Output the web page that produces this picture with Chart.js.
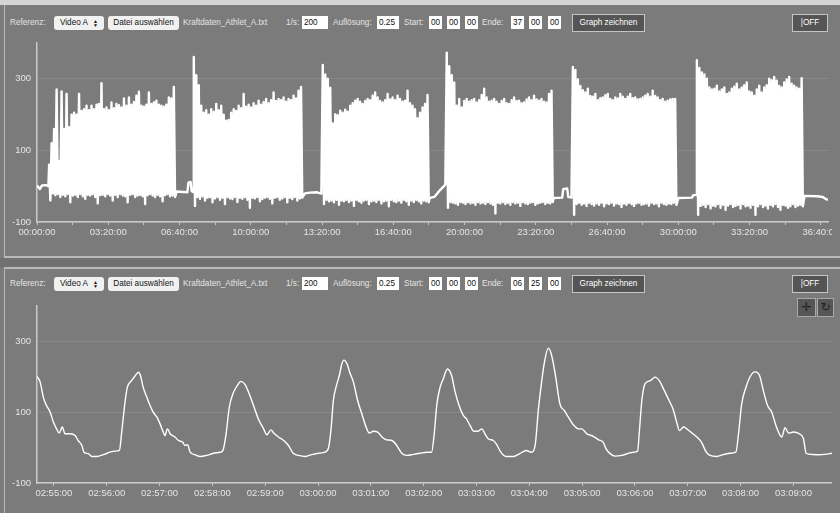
<!DOCTYPE html>
<html><head><meta charset="utf-8">
<script src="https://cdn.jsdelivr.net/npm/chart.js@4.4.1/dist/chart.umd.min.js"></script>
<style>
html,body{margin:0;padding:0;width:840px;height:513px;overflow:hidden;background:#7b7b7b;font-family:"Liberation Sans",Arial,sans-serif;position:relative;}
#topstrip{position:absolute;left:0;top:0;width:840px;height:5px;background:#d4d4d4;}
.panel{position:absolute;left:4px;width:836px;background:#7b7b7b;border-left:1.5px solid #b9b9b9;box-sizing:border-box;}
#p1{top:5px;height:253px;border-bottom:2px solid #b9b9b9;}
#band{position:absolute;left:0;top:258px;width:840px;height:9px;background:#717171;}
#p2{top:267px;height:246px;border-top:2px solid #b9b9b9;}
.t{position:absolute;font-size:8.2px;color:#e4e4e4;line-height:14px;height:14px;white-space:nowrap;}
.box{position:absolute;height:13px;background:#fff;color:#111;font-size:8.2px;line-height:13px;padding-left:2px;box-sizing:border-box;white-space:nowrap;overflow:hidden;}
.lbtn{position:absolute;height:14px;background:#f1f1f1;color:#111;font-size:8.2px;line-height:14px;border-radius:3px;text-align:center;white-space:nowrap;}
.dbtn{position:absolute;height:18px;background:#555;border:1.5px solid #c4c4c4;box-sizing:border-box;color:#fff;font-size:8.2px;line-height:15px;text-align:center;white-space:nowrap;}
.ibtn{position:absolute;height:19px;background:#565656;border:1.5px solid #a8a8a8;box-sizing:border-box;color:#1e1e1e;font-family:"DejaVu Sans",sans-serif;font-size:12px;line-height:16px;text-align:center;}
.chartbox{position:absolute;left:5px;width:827px;}
.arr{display:inline-block;font-size:5px;line-height:4px;vertical-align:middle;margin-left:5px;}
</style></head>
<body>
<div id="topstrip"></div>
<div class="panel" id="p1"></div>
<div id="band"></div>
<div class="panel" id="p2"></div>
<div id="tb1"></div>
<div id="tb2"></div>
<div class="chartbox" style="top:36px;height:214px;"><canvas id="c1"></canvas></div>
<div class="chartbox" style="top:299px;height:212px;"><canvas id="c2"></canvas></div>
<div class="ibtn" style="left:797px;top:298px;width:19px;">✛</div>
<div class="ibtn" style="left:817px;top:298px;width:17px;">↻</div>
<script>
// ---------- data ----------
const yTickValues = [-100, 100, 300];
const topTickValues = [0,100,200,300,400,500,600,700,800,900,1000,1100,1200,1300,1400,1500,1600,1700,1800,1900,2000,2100,2200];
const bottomTickValues = [175,176,177,178,179,180,181,182,183,184,185,186,187,188,189];

// top overview: resting baseline between bouts (time s, force)
const topRestTimes  = [0, 8, 14, 25, 32, 392, 410, 422, 425, 431, 434, 438, 752, 766, 786, 798, 1102, 1115, 1125, 1132, 1140, 1146, 1450, 1474, 1477, 1488, 1491, 1500, 1800, 1838, 1842, 1850, 2154, 2190, 2205, 2214, 2220];
const topRestValues = [2, -8, 2, 3, 0, -15, -16, -17, 10, 12, -14, -16, -20, -18, -17, -21, -33, -30, -18, -10, -2, 5, -33, -32, -8, -6, -30, -32, -33, -32, -25, -25, -27, -28, -30, -36, -38];

// stroke peaks / troughs of the six bouts
const topBlockStarts = [34, 440, 802, 1150, 1504, 1852];
const topStrokeStep = 7;
const topPeaks1 = [60,120,160,270,70,265,160,258,165,200, 205,200,258,210,215,225,212,225,215,228, 230,288,215,220,212,234,218,230,226,220, 245,225,248,228,235,253,264,225,222,228, 262,230,234,239,228,225,222,228,248,245, 277];
const topTroughs1 = [-40,-20,-25,-22,-30,-24,-28,-22,-45,-26, -24,-30,-22,-28,-35,-24,-26,-22,-30,-48, -25,-24,-28,-22,-26,-40,-24,-30,-22,-26, -28,-45,-24,-22,-30,-26,-24,-28,-50,-25, -22,-26,-30,-24,-28,-42,-25,-22,-28,-26, -30];
const topPeaks2 = [361,310,282,225,205,212,200,215,208,230, 212,225,200,183,185,205,215,210,225,218, 258,222,228,220,232,225,239,228,235,244, 232,240,262,238,244,240,248,236,244,240, 253,245,267,277];
const topTroughs2 = [-55,-30,-35,-28,-40,-32,-30,-45,-34,-30, -38,-32,-50,-30,-34,-36,-30,-44,-32,-35, -30,-38,-60,-32,-34,-30,-42,-36,-32,-30, -35,-48,-32,-30,-38,-34,-30,-45,-32,-36, -30,-40,-34,-32];
const topPeaks3 = [339,312,300,275,175,201,198,211,205,214, 208,225,232,239,244,236,230,238,244,240, 253,262,248,238,234,240,258,242,248,240, 253,244,236,239,267,232,225,215,190,205, 220,230,255];
const topTroughs3 = [-50,-38,-42,-40,-45,-38,-52,-40,-42,-38, -44,-40,-55,-38,-42,-46,-40,-38,-50,-42, -40,-44,-38,-48,-42,-40,-56,-38,-42,-44, -40,-46,-38,-42,-52,-40,-44,-38,-42,-48, -40,-42,-45];
const topPeaks4 = [373,335,310,290,225,244,220,238,244,236, 240,244,234,240,255,272,248,236,239,244, 236,230,238,244,232,230,240,248,238,239, 232,234,242,248,240,253,242,239,244,236, 234,258,267];
const topTroughs4 = [-60,-44,-46,-48,-52,-44,-46,-50,-44,-48, -46,-52,-44,-48,-46,-50,-44,-48,-52,-76, -46,-48,-44,-50,-46,-52,-44,-48,-46,-55, -44,-48,-50,-46,-44,-52,-48,-46,-44,-50, -46,-48,-44];
const topPeaks5 = [333,325,298,280,268,262,272,252,250,258, 240,246,248,254,258,244,240,248,245,258, 250,244,250,258,246,248,242,244,248,253, 258,250,267,252,248,240,244,236,239,242, 244,244];
const topTroughs5 = [-80,-50,-46,-52,-48,-55,-46,-50,-54,-48, -52,-46,-56,-48,-50,-46,-54,-48,-50,-58, -48,-52,-46,-50,-55,-48,-46,-52,-50,-48, -54,-46,-50,-48,-56,-46,-50,-52,-48,-50, -46,-52];
const topPeaks6 = [352,330,318,312,300,276,270,272,281,265, 270,276,258,262,272,278,286,270,276,282, 290,265,262,253,270,281,262,276,282,300, 296,305,295,280,276,290,298,305,286,281, 276,272,302];
const topTroughs6 = [-80,-55,-52,-58,-50,-62,-54,-56,-50,-60, -52,-66,-54,-50,-58,-55,-52,-62,-50,-56, -54,-60,-52,-80,-56,-50,-58,-54,-62,-52, -56,-50,-58,-66,-52,-54,-60,-56,-50,-58, -54,-52,-56];

// bottom zoomed view (time s, force)
const bottomTimes = [174.68,174.74,174.80,174.86,174.93,174.99,175.05,175.10,175.16,175.21,
 175.31,175.40,175.46,175.53,175.57,175.65,175.72,175.81,175.94,176.06,
 176.16,176.24,176.28,176.35,176.39,176.47,176.54,176.60,176.64,176.69,
 176.76,176.82,176.88,176.95,177.01,177.07,177.10,177.15,177.20,177.29,
 177.36,177.44,177.48,177.53,177.58,177.67,177.77,177.89,178.02,178.15,
 178.20,178.26,178.32,178.40,178.47,178.54,178.62,178.71,178.79,178.87,
 178.97,179.03,179.11,179.16,179.25,179.35,179.44,179.53,179.63,179.76,
 179.88,180.01,180.13,180.20,180.25,180.29,180.34,180.41,180.45,180.49,
 180.55,180.60,180.67,180.75,180.83,180.91,180.97,181.05,181.13,181.21,
 181.30,181.40,181.49,181.59,181.68,181.81,181.93,182.06,182.15,182.20,
 182.25,182.31,182.37,182.45,182.53,182.59,182.67,182.75,182.81,182.88,
 182.95,183.03,183.10,183.16,183.22,183.32,183.38,183.46,183.56,183.70,
 183.82,183.94,184.04,184.11,184.17,184.22,184.28,184.36,184.42,184.49,
 184.58,184.66,184.74,184.83,184.93,184.99,185.09,185.21,185.31,185.40,
 185.45,185.53,185.62,185.75,185.88,185.97,186.05,186.08,186.13,186.19,
 186.29,186.38,186.46,186.54,186.63,186.72,186.79,186.84,186.92,186.98,
 187.08,187.17,187.26,187.35,187.42,187.55,187.67,187.80,187.91,187.96,
 188.02,188.10,188.19,188.27,188.36,188.43,188.51,188.59,188.67,188.78,
 188.84,188.91,189.00,189.11,189.19,189.24,189.32,189.47,189.60,189.73];
const bottomValues = [201,185,142,119,100,72,53,41,58,39,
 39,34,20,6,-13,-17,-25,-25,-20,-13,
 -10,-8,39,133,170,189,203,213,203,170,
 142,119,100,86,67,44,34,53,39,30,
 20,15,6,8,-13,-20,-25,-22,-16,-13,
 -8,39,114,156,175,187,178,147,114,81,
 53,36,50,41,30,20,6,-16,-22,-25,
 -20,-16,-13,0,58,133,170,208,236,247,
 236,213,185,133,95,58,41,46,44,30,
 22,20,6,-17,-22,-19,-16,-13,-13,39,
 123,170,194,222,203,161,119,91,81,62,
 46,46,53,39,25,20,9,-13,-25,-25,
 -17,-8,-13,6,105,170,236,281,262,208,
 123,105,86,65,53,53,39,32,22,15,
 -3,-17,-24,-22,-16,-13,-10,39,133,180,
 189,199,189,166,138,109,72,48,58,53,
 41,30,15,-13,-22,-25,-20,-16,-13,39,
 123,170,203,214,203,161,119,100,62,30,
 56,41,44,39,25,-16,-19,-20,-19,-16];

// ---------- toolbars ----------
function toolbar(id, cy, ende) {
  const top = cy - 7, bt = cy - 9;
  const h = [];
  h.push(`<span class="t" style="left:10px;top:${top}px">Referenz:</span>`);
  h.push(`<span class="lbtn" style="left:54px;top:${top}px;width:50px;">Video A<span class="arr">▲<br>▼</span></span>`);
  h.push(`<span class="lbtn" style="left:108px;top:${top}px;width:71px;">Datei auswählen</span>`);
  h.push(`<span class="t" style="left:183px;top:${top}px">Kraftdaten_Athlet_A.txt</span>`);
  h.push(`<span class="t" style="left:286px;top:${top}px">1/s:</span>`);
  h.push(`<span class="box" style="left:302px;top:${top}px;width:26px;">200</span>`);
  h.push(`<span class="t" style="left:333px;top:${top}px">Auflösung:</span>`);
  h.push(`<span class="box" style="left:377px;top:${top}px;width:22px;">0.25</span>`);
  h.push(`<span class="t" style="left:404px;top:${top}px">Start:</span>`);
  [429,447,465].forEach(x=>h.push(`<span class="box" style="left:${x}px;top:${top}px;width:13px;">00</span>`));
  h.push(`<span class="t" style="left:482px;top:${top}px">Ende:</span>`);
  [511,529,548].forEach((x,i)=>h.push(`<span class="box" style="left:${x}px;top:${top}px;width:13px;">${ende[i]}</span>`));
  h.push(`<span class="dbtn" style="left:572px;top:${bt}px;width:73px;">Graph zeichnen</span>`);
  h.push(`<span class="dbtn" style="left:792px;top:${bt}px;width:36px;">|OFF</span>`);
  document.getElementById(id).innerHTML = h.join('');
}
toolbar('tb1', 23, ['37','00','00']);
toolbar('tb2', 284, ['06','25','00']);

// ---------- charts ----------
function pad2(n){ return (n < 10 ? '0' : '') + n; }
function fmtTime(v){ const m = Math.floor(v / 60); const s = Math.round(v - m * 60); return pad2(m) + ':' + pad2(s) + ':00'; }

const topPeaks = [topPeaks1, topPeaks2, topPeaks3, topPeaks4, topPeaks5, topPeaks6];
const topTroughs = [topTroughs1, topTroughs2, topTroughs3, topTroughs4, topTroughs5, topTroughs6];
const topPoints = topRestTimes.map((t, i) => ({x: t, y: topRestValues[i]}));
topBlockStarts.forEach((s, b) => {
  topPeaks[b].forEach((p, i) => {
    topPoints.push({x: s + i * topStrokeStep, y: p});
    topPoints.push({x: s + i * topStrokeStep + topStrokeStep / 2, y: topTroughs[b][i]});
  });
});
topPoints.sort((a, b) => a.x - b.x);
const bottomPoints = bottomTimes.map((t, i) => ({x: t, y: bottomValues[i]}));

Chart.defaults.font.family = '"Liberation Sans", Arial, sans-serif';

function makeChart(id, points, xMin, xMax, xTicks, labelEvery, padRight, lw, smooth) {
  return new Chart(document.getElementById(id), {
    type: 'line',
    data: { datasets: [{ data: points, borderColor: '#ffffff', borderWidth: lw, pointRadius: 0,
      tension: 0, cubicInterpolationMode: smooth ? 'monotone' : 'default', fill: false,
      borderJoinStyle: 'round' }] },
    options: {
      responsive: true, maintainAspectRatio: false, animation: false,
      layout: { padding: { top: 7, right: padRight, left: 0, bottom: 0 } },
      plugins: { legend: { display: false }, tooltip: { enabled: false } },
      scales: {
        x: {
          type: 'linear', min: xMin, max: xMax,
          afterBuildTicks: a => { a.ticks = xTicks.map(v => ({value: v})); },
          afterFit: a => { a.height = 28; a.paddingLeft = 0; a.paddingRight = 0; },
          grid: { drawOnChartArea: false, drawTicks: true, tickLength: 3, color: '#c6c6c6', lineWidth: 1 },
          border: { color: '#cacaca', width: 1.5 },
          ticks: { color: '#e6e6e6', padding: 2, maxRotation: 0, autoSkip: false, font: { size: 9.5 },
            callback: v => (Math.round(v) % labelEvery === 0 ? fmtTime(v) : '') }
        },
        y: {
          type: 'linear', min: -100, max: 400,
          afterBuildTicks: a => { a.ticks = yTickValues.map(v => ({value: v})); },
          afterFit: a => { a.width = 32; a.paddingTop = 0; a.paddingBottom = 0; },
          grid: { color: 'rgba(255,255,255,0.1)', drawTicks: false, lineWidth: 1 },
          border: { color: '#cacaca', width: 1.5 },
          ticks: { color: '#e6e6e6', padding: 6, font: { size: 9.5 } }
        }
      }
    }
  });
}
makeChart('c1', topPoints, 0, 2220, topTickValues, 200, 4, 2.4, false);
makeChart('c2', bottomPoints, 174.68, 189.73, bottomTickValues, 1, 0, 1.4, true);
</script>
</body></html>
